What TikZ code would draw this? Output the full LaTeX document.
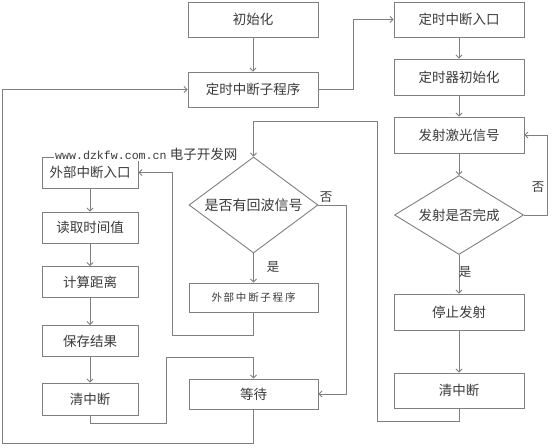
\documentclass[tikz,border=0pt]{standalone}
\usepackage{fontspec}
\newfontfamily\cjk{Noto Sans CJK SC}
\newfontfamily\wmono{Liberation Mono}
\usetikzlibrary{arrows.meta,shapes.geometric}
\definecolor{lncol}{HTML}{7F7F7F}
\definecolor{txcol}{HTML}{3A3A3A}
\tikzset{
  box/.style={draw=lncol,line width=0.9pt,minimum width=130pt,minimum height=35pt,inner sep=0pt,text=txcol,font=\cjk\fontsize{13.5}{15}\selectfont},
  lbox/.style={box,minimum width=96pt,minimum height=31pt},
  dia/.style={diamond,draw=lncol,line width=0.9pt,inner sep=0pt,text=txcol,font=\cjk\fontsize{13.5}{15}\selectfont},
  conn/.style={draw=lncol,line width=0.9pt,-{Straight Barb[length=3pt,width=6pt]}},
  lab/.style={text=txcol,font=\cjk\fontsize{12.5}{14}\selectfont,inner sep=0pt},
}
\begin{document}
\begin{tikzpicture}[x=1pt,y=-1pt]
\useasboundingbox (0,0) rectangle (554,447);
% top center
\node[box] (init) at (253,19.5) {初始化};
\node[box] (tsub) at (253,89.5) {定时中断子程序};
% right column
\node[box] (tentry) at (459,19.5) {定时中断入口};
\node[box,minimum height=36pt] (tinit) at (459,77) {定时器初始化};
\node[box,minimum height=36pt] (emit) at (459,135) {发射激光信号};
\node[dia,aspect=1.63,minimum width=129pt,minimum height=79pt] (done) at (459,215) {发射是否完成};
\node[box,minimum height=36pt] (stop) at (459,312) {停止发射};
\node[box] (rclr) at (459,390.5) {清中断};
% middle column
\node[dia,aspect=1.34,minimum width=129pt,minimum height=96pt,font=\cjk\fontsize{14}{16}\selectfont] (echo) at (253.5,205) {是否有回波信号};
\node[box,minimum width=129pt,minimum height=29pt,font=\cjk\fontsize{10.5}{12}\selectfont] (esub) at (253.5,297.5) {外\,部\,中\,断\,子\,程\,序};
\node[box,minimum width=129pt,minimum height=30pt] (wait) at (253.5,394) {等待};
% left column
\node[lbox] (eentry) at (90,172.5) {外部中断入口};
\node[lbox] (read) at (90,227.5) {读取时间值};
\node[lbox] (calc) at (90,282) {计算距离};
\node[lbox] (save) at (90,341) {保存结果};
\node[lbox,minimum height=32pt] (lclr) at (90,399) {清中断};
% watermark
\node[anchor=west,fill=white,inner sep=1pt,text=txcol] (wm) at (54,154) {{\wmono\fontsize{11.6}{13}\selectfont www.dzkfw.com.cn} {\cjk\fontsize{13.5}{15}\selectfont 电子开发网}};
% coordinates
\coordinate (a1) at (353,89.5);
\coordinate (a2) at (353,19.5);
\coordinate (b1) at (547,215);
\coordinate (b2) at (547,135);
\coordinate (c1) at (459,421);
\coordinate (c2) at (377,421);
\coordinate (c3) at (377,121);
\coordinate (c4) at (253.5,121);
\coordinate (d1) at (346,205);
\coordinate (d2) at (346,394);
\coordinate (e1) at (253.5,335);
\coordinate (e2) at (172,335);
\coordinate (e3) at (172,172.5);
\coordinate (f1) at (90,423);
\coordinate (f2) at (166,423);
\coordinate (f3) at (166,357);
\coordinate (f4) at (253.5,357);
\coordinate (g1) at (253.5,443);
\coordinate (g2) at (2,443);
\coordinate (g3) at (2,89.5);
% connectors
\draw[conn] (init) -- (tsub);
\draw[conn] (tsub.east) -- (a1) -- (a2) -- (tentry.west);
\draw[conn] (tentry) -- (tinit);
\draw[conn] (tinit) -- (emit);
\draw[conn] (emit) -- (done);
\draw[conn] (done.east) -- (b1) -- (b2) -- (emit.east);
\node[lab] (no1) at (538,187) {否};
\draw[conn] (done.south) -- (stop.north);
\node[lab] (yes1) at (465,272) {是};
\draw[conn] (stop) -- (rclr);
\draw[conn] (rclr.south) -- (c1) -- (c2) -- (c3) -- (c4) -- (echo.north);
\draw[conn] (echo.east) -- (d1) -- (d2) -- (wait.east);
\node[lab] (no2) at (326,197) {否};
\draw[conn] (echo.south) -- (esub.north);
\node[lab] (yes2) at (273,267) {是};
\draw[conn] (esub.south) -- (e1) -- (e2) -- (e3) -- (eentry.east);
\draw[conn] (eentry) -- (read);
\draw[conn] (read) -- (calc);
\draw[conn] (calc) -- (save);
\draw[conn] (save) -- (lclr);
\draw[conn] (lclr.south) -- (f1) -- (f2) -- (f3) -- (f4) -- (wait.north);
\draw[conn] (wait.south) -- (g1) -- (g2) -- (g3) -- (tsub.west);
\end{tikzpicture}
\end{document}
